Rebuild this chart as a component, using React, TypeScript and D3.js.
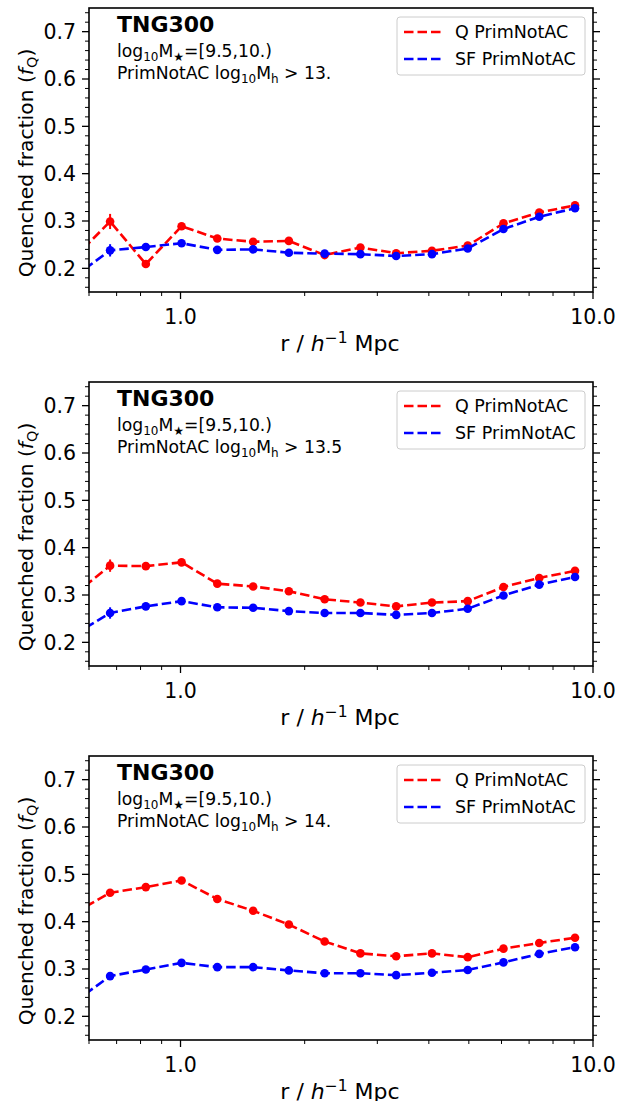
import React from "react";
import * as d3 from "d3";

// Radial bin centres (h^-1 Mpc)
const rBins = [0.552, 0.675, 0.824, 1.006, 1.228, 1.5, 1.831, 2.236, 2.73, 3.333, 4.07, 4.969, 6.067, 7.408, 9.045];

// Panel 1: log10 Mh > 13.
const q13 = [0.222, 0.299, 0.209, 0.289, 0.263, 0.256, 0.258, 0.228, 0.244, 0.232, 0.237, 0.248, 0.295, 0.318, 0.333];
const sf13 = [0.182, 0.238, 0.245, 0.253, 0.239, 0.24, 0.233, 0.231, 0.23, 0.226, 0.23, 0.242, 0.283, 0.309, 0.327];
const q13Err = [0.02, 0.016, 0.006, 0.005, 0.004, 0.004, 0.004, 0.003, 0.003, 0.003, 0.003, 0.003, 0.003, 0.003, 0.003];
const sf13Err = [0.018, 0.013, 0.005, 0.004, 0.004, 0.003, 0.003, 0.003, 0.003, 0.003, 0.003, 0.003, 0.003, 0.003, 0.003];

// Panel 2: log10 Mh > 13.5
const q135 = [0.301, 0.362, 0.361, 0.369, 0.324, 0.318, 0.308, 0.291, 0.284, 0.276, 0.284, 0.287, 0.317, 0.336, 0.351];
const sf135 = [0.216, 0.262, 0.276, 0.287, 0.274, 0.273, 0.266, 0.262, 0.262, 0.258, 0.262, 0.271, 0.299, 0.322, 0.338];
const q135Err = [0.018, 0.013, 0.006, 0.005, 0.004, 0.004, 0.004, 0.003, 0.003, 0.003, 0.003, 0.003, 0.003, 0.003, 0.003];
const sf135Err = [0.016, 0.012, 0.005, 0.004, 0.004, 0.003, 0.003, 0.003, 0.003, 0.003, 0.003, 0.003, 0.003, 0.003, 0.003];

// Panel 3: log10 Mh > 14.
const q14 = [0.418, 0.461, 0.473, 0.487, 0.448, 0.423, 0.394, 0.358, 0.333, 0.327, 0.333, 0.325, 0.343, 0.355, 0.366];
const sf14 = [0.23, 0.285, 0.299, 0.313, 0.304, 0.304, 0.297, 0.291, 0.291, 0.287, 0.292, 0.298, 0.314, 0.332, 0.346];
const q14Err = [0.01, 0.006, 0.005, 0.005, 0.004, 0.004, 0.004, 0.003, 0.003, 0.003, 0.003, 0.003, 0.003, 0.003, 0.003];
const sf14Err = [0.009, 0.006, 0.005, 0.004, 0.004, 0.003, 0.003, 0.003, 0.003, 0.003, 0.003, 0.003, 0.003, 0.003, 0.003];

const haloCuts = ["13.", "13.5", "14."];
const xMajorTicks = [1, 10];
const xMinorTicks = [0.6, 0.7, 0.8, 0.9, 2, 3, 4, 5, 6, 7, 8, 9];
const yMajorTicks = [0.2, 0.3, 0.4, 0.5, 0.6, 0.7];
const yMinorTicks = [0.16, 0.18, 0.22, 0.24, 0.26, 0.28, 0.32, 0.34, 0.36, 0.38, 0.42, 0.44, 0.46, 0.48, 0.52, 0.54, 0.56, 0.58, 0.62, 0.64, 0.66, 0.68, 0.72, 0.74];
const legendLabels = ["Q PrimNotAC", "SF PrimNotAC"];
const seriesColors = ["#ff0000", "#0000ff"];

const FONT = "DejaVu Sans, sans-serif";
const LEFT = 89;
const RIGHT = 593;
const PANEL_H = 284;
const PANEL_TOPS = [8, 382, 756];

const xScale = d3.scaleLog().domain([0.6, 10]).range([LEFT, RIGHT]);

type PanelProps = {
  idx: number;
  top: number;
  q: number[];
  sf: number[];
  qErr: number[];
  sfErr: number[];
  cut: string;
};

function Panel({ idx, top, q, sf, qErr, sfErr, cut }: PanelProps) {
  const bottom = top + PANEL_H;
  const yScale = d3.scaleLinear().domain([0.15, 0.75]).range([bottom, top]);
  const line = d3
    .line<number>()
    .x((_, i) => xScale(rBins[i]))
    .y((v) => yScale(v));
  const clipId = `clip-${idx}`;
  const series = [
    { vals: q, err: qErr, color: seriesColors[0] },
    { vals: sf, err: sfErr, color: seriesColors[1] },
  ];
  const tx = 117;
  return (
    <g>
      <defs>
        <clipPath id={clipId}>
          <rect x={LEFT} y={top} width={RIGHT - LEFT} height={PANEL_H} />
        </clipPath>
      </defs>
      <g clipPath={`url(#${clipId})`}>
        {series.map((s, si) => (
          <g key={si}>
            <path d={line(s.vals) || ""} fill="none" stroke={s.color} strokeWidth={2.6} strokeDasharray="9.5 4" />
            {s.vals.map((v, i) => (
              <g key={i}>
                <line
                  x1={xScale(rBins[i])}
                  x2={xScale(rBins[i])}
                  y1={yScale(v - s.err[i])}
                  y2={yScale(v + s.err[i])}
                  stroke={s.color}
                  strokeWidth={2}
                />
                <circle cx={xScale(rBins[i])} cy={yScale(v)} r={4.3} fill={s.color} />
              </g>
            ))}
          </g>
        ))}
      </g>
      {/* frame */}
      <rect x={LEFT} y={top} width={RIGHT - LEFT} height={PANEL_H} fill="none" stroke="#000" strokeWidth={1.6} />
      {/* x ticks */}
      {xMajorTicks.map((t) => (
        <g key={`xM${t}`}>
          <line x1={xScale(t)} x2={xScale(t)} y1={bottom} y2={bottom + 7} stroke="#000" strokeWidth={1.3} />
          <text x={xScale(t)} y={bottom + 31.5} textAnchor="middle" fontSize={20.5} fontFamily={FONT}>
            {t.toFixed(1)}
          </text>
        </g>
      ))}
      {xMinorTicks.map((t) => (
        <line key={`xm${t}`} x1={xScale(t)} x2={xScale(t)} y1={bottom} y2={bottom + 4} stroke="#000" strokeWidth={1} />
      ))}
      {/* y ticks */}
      {yMajorTicks.map((t) => (
        <g key={`yM${t}`}>
          <line x1={LEFT - 7} x2={LEFT} y1={yScale(t)} y2={yScale(t)} stroke="#000" strokeWidth={1.3} />
          <line x1={RIGHT} x2={RIGHT + 7} y1={yScale(t)} y2={yScale(t)} stroke="#000" strokeWidth={1.3} />
          <text x={LEFT - 13} y={yScale(t)} dy="0.36em" textAnchor="end" fontSize={20.5} fontFamily={FONT}>
            {t.toFixed(1)}
          </text>
        </g>
      ))}
      {yMinorTicks.map((t) => (
        <g key={`ym${t}`}>
          <line x1={LEFT - 4} x2={LEFT} y1={yScale(t)} y2={yScale(t)} stroke="#000" strokeWidth={1} />
          <line x1={RIGHT} x2={RIGHT + 4} y1={yScale(t)} y2={yScale(t)} stroke="#000" strokeWidth={1} />
        </g>
      ))}
      {/* axis labels */}
      <text x={(LEFT + RIGHT) / 2 - 1} y={bottom + 59} textAnchor="middle" fontSize={22} fontFamily={FONT}>
        r / <tspan fontStyle="italic">h</tspan>
        <tspan dy={-8} fontSize={15.5}>−1</tspan>
        <tspan dy={8}> Mpc</tspan>
      </text>
      <text
        transform={`translate(33, ${top + PANEL_H / 2 + 13}) rotate(-90)`}
        textAnchor="middle"
        fontSize={20.3}
        fontFamily={FONT}
      >
        Quenched fraction (<tspan fontStyle="italic">f</tspan>
        <tspan dy={4} fontSize={14.5}>Q</tspan>
        <tspan dy={-4}>)</tspan>
      </text>
      {/* annotations */}
      <text x={tx} y={top + 24} fontSize={22} fontWeight="bold" fontFamily={FONT}>
        TNG300
      </text>
      <text x={tx} y={top + 48.7} fontSize={17.2} fontFamily={FONT}>
        log<tspan dy={4} fontSize={12}>10</tspan>
        <tspan dy={-4}>M</tspan>
        <tspan dy={4} fontSize={12}>★</tspan>
        <tspan dy={-4}>=[9.5,10.)</tspan>
      </text>
      <text x={tx} y={top + 71.3} fontSize={17.2} fontFamily={FONT}>
        PrimNotAC log<tspan dy={4} fontSize={12}>10</tspan>
        <tspan dy={-4}>M</tspan>
        <tspan dy={4} fontSize={12}>h</tspan>
        <tspan dy={-4}>{` > ${cut}`}</tspan>
      </text>
      {/* legend */}
      <rect x={397} y={top + 9} width={188} height={58} rx={3} fill="#fff" fillOpacity={0.8} stroke="#cccccc" strokeWidth={1} />
      {legendLabels.map((lab, i) => (
        <g key={lab}>
          <line
            x1={404}
            x2={441}
            y1={top + 24 + i * 27}
            y2={top + 24 + i * 27}
            stroke={seriesColors[i]}
            strokeWidth={2.6}
            strokeDasharray="9.5 4"
          />
          <text x={455} y={top + 24 + i * 27} dy="0.36em" fontSize={17.5} fontFamily={FONT}>
            {lab}
          </text>
        </g>
      ))}
    </g>
  );
}

export default function App() {
  const panels = [
    { q: q13, sf: sf13, qErr: q13Err, sfErr: sf13Err },
    { q: q135, sf: sf135, qErr: q135Err, sfErr: sf135Err },
    { q: q14, sf: sf14, qErr: q14Err, sfErr: sf14Err },
  ];
  return (
    <svg
      width={627}
      height={1101}
      style={{ position: "absolute", left: 0, top: 0, background: "#fff" }}
    >
      <rect x={0} y={0} width={627} height={1101} fill="#fff" />
      {panels.map((p, i) => (
        <Panel key={i} idx={i} top={PANEL_TOPS[i]} cut={haloCuts[i]} {...p} />
      ))}
    </svg>
  );
}
